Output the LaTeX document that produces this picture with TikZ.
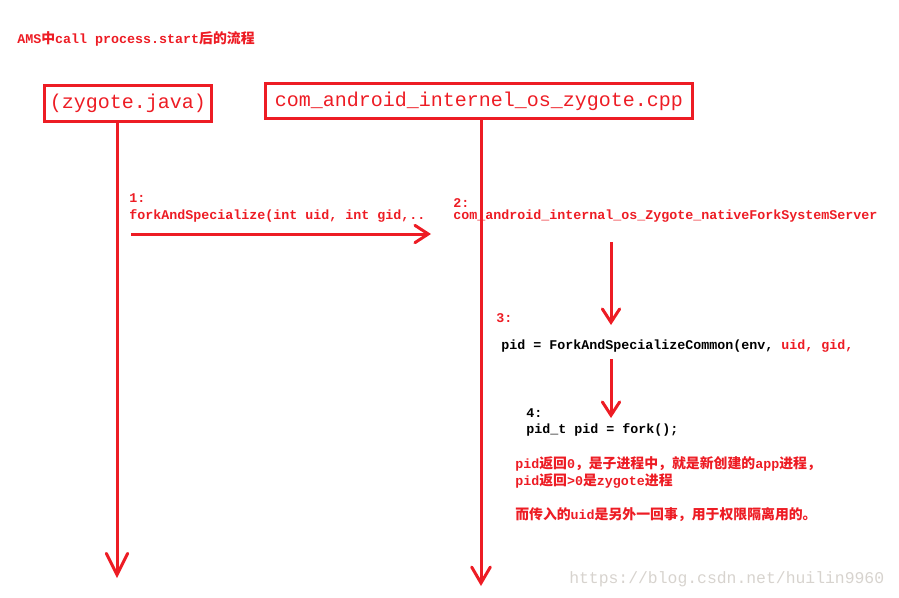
\documentclass[tikz,border=0pt]{standalone}
\usepackage{fontspec}
\setmainfont{Liberation Mono}
\newfontfamily\cjk[Scale=1.04]{Noto Sans CJK SC}
\newfontfamily\wmfont{Liberation Mono}
\usetikzlibrary{arrows.meta}
\definecolor{pred}{RGB}{237,28,36}
\definecolor{wmgray}{RGB}{215,211,206}
\newcommand\zh[1]{{\cjk\bfseries #1}}
\tikzset{
  redline/.style={draw=pred, line width=2.25pt},
  tipsmall/.style={-{Straight Barb[length=10pt,width=13pt,line cap=round]}},
  tiplong/.style={-{Straight Barb[length=16pt,width=16pt,line cap=round]}},
  tipmid/.style={-{Straight Barb[length=12pt,width=14pt,line cap=round]}},
  boxnode/.style={draw=pred, line width=2.25pt, inner sep=0pt, text=pred,
    font=\fontsize{15pt}{18pt}\selectfont},
  code/.style={anchor=base west, inner sep=0pt, font=\fontsize{10pt}{12pt}\selectfont\bfseries},
  redcode/.style={code, text=pred},
  blackcode/.style={code, text=black},
  zhtext/.style={anchor=base west, inner sep=0pt, text=pred, font=\fontsize{10pt}{12pt}\selectfont\bfseries}
}
\begin{document}
\begin{tikzpicture}[x=0.75pt,y=-0.75pt]
\useasboundingbox (0,0) rectangle (899,597);
% title
\node[redcode] (title) at (17,43)
  {AMS\zh{中}call process.start\zh{后的流程}};
% boxes
\node[boxnode, minimum width=167*0.75pt, minimum height=36*0.75pt] (box1) at (128,103) {(zygote.java)};
\node[boxnode, minimum width=427*0.75pt, minimum height=35*0.75pt] (box2) at (479,101) {com\_android\_internel\_os\_zygote.cpp};
% lifelines
\coordinate (l1top) at (117,122);
\coordinate (l1end) at (117,578);
\coordinate (l2top) at (481,120);
\coordinate (l2end) at (481,586);
\draw[redline, tiplong] (l1top) -- (l1end);
\draw[redline, tipmid] (l2top) -- (l2end);
% step 1
\node[redcode] (s1a) at (129,202) {1:};
\node[redcode] (s1b) at (129,219) {forkAndSpecialize(int uid, int gid,..};
\coordinate (a1s) at (131,234);
\coordinate (a1e) at (431,234);
\draw[redline, tipsmall] (a1s) -- (a1e);
% step 2
\node[redcode] (s2a) at (453,207) {2:};
\node[redcode] (s2b) at (453,219) {com\_android\_internal\_os\_Zygote\_nativeForkSystemServer};
\coordinate (a2s) at (611,242);
\coordinate (a2e) at (611,325);
\draw[redline, tipsmall] (a2s) -- (a2e);
% step 3
\node[redcode] (s3a) at (496,322) {3:};
\node[blackcode] (s3b) at (501,349) {pid = ForkAndSpecializeCommon(env, \textcolor{pred}{uid, gid,}};
\coordinate (a3s) at (611,359);
\coordinate (a3e) at (611,418);
\draw[redline, tipsmall] (a3s) -- (a3e);
% step 4
\node[blackcode] (s4a) at (526,417) {4:};
\node[blackcode] (s4b) at (526,433) {pid\_t pid = fork();};
% notes
\node[zhtext] (n1) at (515,468) {pid\zh{返回}0\zh{，是子进程中，就是新创建的}app\zh{进程，}};
\node[zhtext] (n2) at (515,485) {pid\zh{返回}>0\zh{是}zygote\zh{进程}};
\node[zhtext] (n3) at (515,519) {\zh{而传入的}uid\zh{是另外一回事，用于权限隔离用的。}};
% watermark
\node[anchor=base west, inner sep=0pt, text=wmgray, font=\wmfont\fontsize{12.3pt}{14pt}\selectfont] (wm) at (569,583) {https://blog.csdn.net/huilin9960};
\end{tikzpicture}
\end{document}
